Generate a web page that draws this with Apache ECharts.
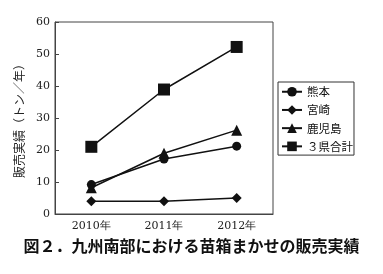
<!DOCTYPE html>
<html><head><meta charset="utf-8">
<script src="https://cdn.jsdelivr.net/npm/echarts@6/dist/echarts.min.js"></script>
<style>html,body{margin:0;padding:0;background:#fff}#c{width:383px;height:274px}</style>
</head><body><div id="c"></div>
<script>
const categories = ['2010年', '2011年', '2012年'];
const kumamoto = [9.2, 17.2, 21.2];
const miyazaki = [4.0, 4.0, 5.0];
const kagoshima = [8.2, 19.0, 26.2];
const total = [21.0, 38.9, 52.2];
const seriesNames = ['熊本', '宮崎', '鹿児島', '３県合計'];
const yTicks = [0, 10, 20, 30, 40, 50, 60];

const serif = '"DejaVu Serif","Liberation Serif",serif';
const cjk = '"Noto Sans CJK JP","Noto Sans",sans-serif';
const chart = echarts.init(document.getElementById('c'), null, {renderer: 'canvas'});
function mk(name, data, symbol, size) {
  return {
    name, type: 'line', data, symbol, symbolSize: size,
    lineStyle: {color: '#111', width: 1.5},
    itemStyle: {color: '#111'},
    animation: false
  };
}
chart.setOption({
  animation: false,
  title: {
    text: '図２．九州南部における苗箱まかせの販売実績',
    left: 'center', top: 233,
    textStyle: {fontFamily: cjk, fontSize: 16, fontWeight: 'bold', color: '#111'}
  },
  grid: {left: 55, right: 110, top: 22, bottom: 60, show: true, borderColor: '#444', borderWidth: 1},
  legend: {
    orient: 'vertical', left: 278, top: 82,
    padding: [4, 1, 3, 3], itemGap: 6.7, itemWidth: 20, itemHeight: 12,
    borderColor: '#333', borderWidth: 1,
    textStyle: {fontFamily: cjk, fontSize: 11.5, color: '#111'},
    data: seriesNames
  },
  xAxis: {
    type: 'category', data: categories, boundaryGap: true,
    axisLine: {lineStyle: {color: '#444'}},
    axisTick: {inside: true, length: 4, lineStyle: {color: '#444'}},
    axisLabel: {fontFamily: serif, fontSize: 11, color: '#222', margin: 7}
  },
  yAxis: {
    type: 'value', min: yTicks[0], max: yTicks[yTicks.length - 1], interval: 10,
    name: '販売実績（トン／年）', nameLocation: 'middle', nameRotate: 90, nameGap: 26,
    nameTextStyle: {fontFamily: cjk, fontSize: 12, color: '#222'},
    axisLine: {show: true, lineStyle: {color: '#444'}},
    axisTick: {show: true, inside: true, length: 4, lineStyle: {color: '#444'}},
    splitLine: {show: false},
    axisLabel: {fontFamily: serif, fontSize: 11, color: '#222', margin: 5}
  },
  series: [
    mk(seriesNames[0], kumamoto, 'circle', 9),
    mk(seriesNames[1], miyazaki, 'diamond', 10),
    mk(seriesNames[2], kagoshima, 'triangle', 11),
    mk(seriesNames[3], total, 'rect', 12)
  ]
});
</script></body></html>
